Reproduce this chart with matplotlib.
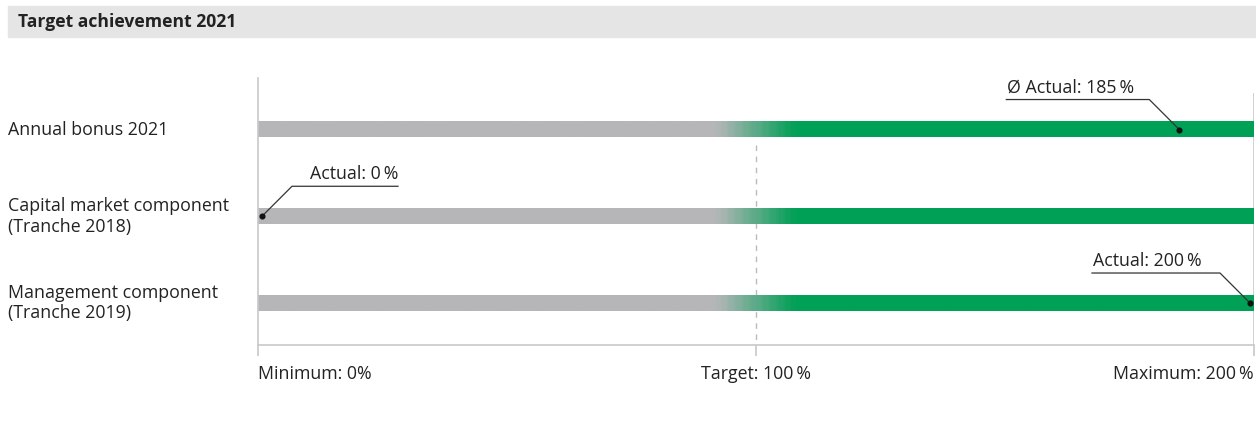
import numpy as np
import matplotlib
matplotlib.use("Agg")
import matplotlib.pyplot as plt
from matplotlib.colors import LinearSegmentedColormap
from matplotlib.patches import Rectangle
from matplotlib.transforms import ScaledTranslation, blended_transform_factory

plt.rcParams['font.family'] = ['Open Sans', 'DejaVu Sans']

# Daten
title = "Target achievement 2021"
categories = ["Annual bonus 2021",
              "Capital market component\n(Tranche 2018)",
              "Management component\n(Tranche 2019)"]
actual = [185, 0, 200]
actual_labels = ["\u00d8 Actual: 185\u2009%", "Actual: 0\u2009%", "Actual: 200\u2009%"]
scale_ticks = [0, 100, 200]
scale_labels = ["Minimum: 0%", "Target: 100\u2009%", "Maximum: 200\u2009%"]

GRAY = "#b6b6b9"
GREEN = "#00a056"
LINE = "#c8c8c8"
TXT = "#222222"
FS = 12.8

W, H = 1256, 421
fig = plt.figure(figsize=(W / 100, H / 100), dpi=100)


def px(x0, y0, x1, y1):
    # Pixelrahmen -> Figurkoordinaten
    return [x0 / W, 1 - y1 / H, (x1 - x0) / W, (y1 - y0) / H]


# Titelbalken
fig.patches.append(Rectangle((8 / W, 1 - 37 / H), (W - 8) / W, 31 / H,
                             transform=fig.transFigure, color="#e5e5e6", zorder=0))
fig.text(18 / W, 1 - 22 / H, title, fontsize=12.6, fontweight='bold',
         color=TXT, va='center', ha='left')

ax = fig.add_axes(px(258, 78, 1254, 345))
n = len(categories)
ypos = np.arange(n)
bar_h = 0.18

# Verlauf grau -> grün
cmap = LinearSegmentedColormap.from_list(
    "g", [(0, GRAY), (0.46, GRAY), (0.54, GREEN), (1, GREEN)])
grad = np.linspace(0, 1, 400).reshape(1, -1)
for y in ypos:
    ax.imshow(grad, cmap=cmap, aspect='auto',
              extent=[0, 200, y + bar_h / 2, y - bar_h / 2], zorder=2)
ax.set_xlim(0, 200)
ax.set_ylim(2.484, -0.594)

# Achsenlinien
for s in ['top', 'right']:
    ax.spines[s].set_visible(False)
for s in ['left', 'bottom']:
    ax.spines[s].set_color(LINE)
    ax.spines[s].set_linewidth(1.2)
ax.vlines(200, -0.42, 2.484, color=LINE, lw=1.2, zorder=1)
ax.vlines(100, 0.18, 2.484, color="#bbbbbb", lw=1, linestyles=(0, (4, 4)), zorder=1)
ax.set_yticks([])
ax.set_xticks(scale_ticks, scale_labels)
ax.tick_params(axis='x', length=8, width=1.2, color=LINE, pad=6.5,
               labelsize=FS, labelcolor=TXT)
tl = ax.get_xticklabels()
tl[0].set_ha('left')
tl[2].set_ha('right')

# Kategorien
tr = blended_transform_factory(fig.transFigure, ax.transData)
for y, c in zip(ypos, categories):
    ax.text(8 / W, y, c, transform=tr, fontsize=FS, color=TXT,
            va='center', ha='left', linespacing=1.2)


def off(dx, dy):
    return ax.transData + ScaledTranslation(dx / 100, dy / 100, fig.dpi_scale_trans)


# Annotationen: (Einrückung Punkt, Knick dx, Linienende dx, Textausrichtung)
ann = [(0, -30, -173, 'left'), (4, 30, 136, 'right'), (-4, -30, -158, 'left')]
inv = ax.transData.inverted()
for y, v, lab, (inset, kx, ex, ha) in zip(ypos, actual, actual_labels, ann):
    base = ax.transData.transform((v, y))
    pts = np.array([[0, 0], [kx, 30], [ex, 30]]) + [base[0] + inset, base[1]]
    dpts = inv.transform(pts)
    ax.plot(dpts[:1, 0], dpts[:1, 1], 'o', ms=3.4, color="#111111", zorder=5, clip_on=False)
    ax.plot(dpts[:, 0], dpts[:, 1], color="#333333", lw=0.9, zorder=4, clip_on=False)
    ax.text(dpts[2, 0], dpts[2, 1], lab, ha=ha, va='bottom', fontsize=FS, color=TXT,
            transform=off(1 if ha == 'left' else 0, 3))

fig.savefig("out.png", dpi=100)
